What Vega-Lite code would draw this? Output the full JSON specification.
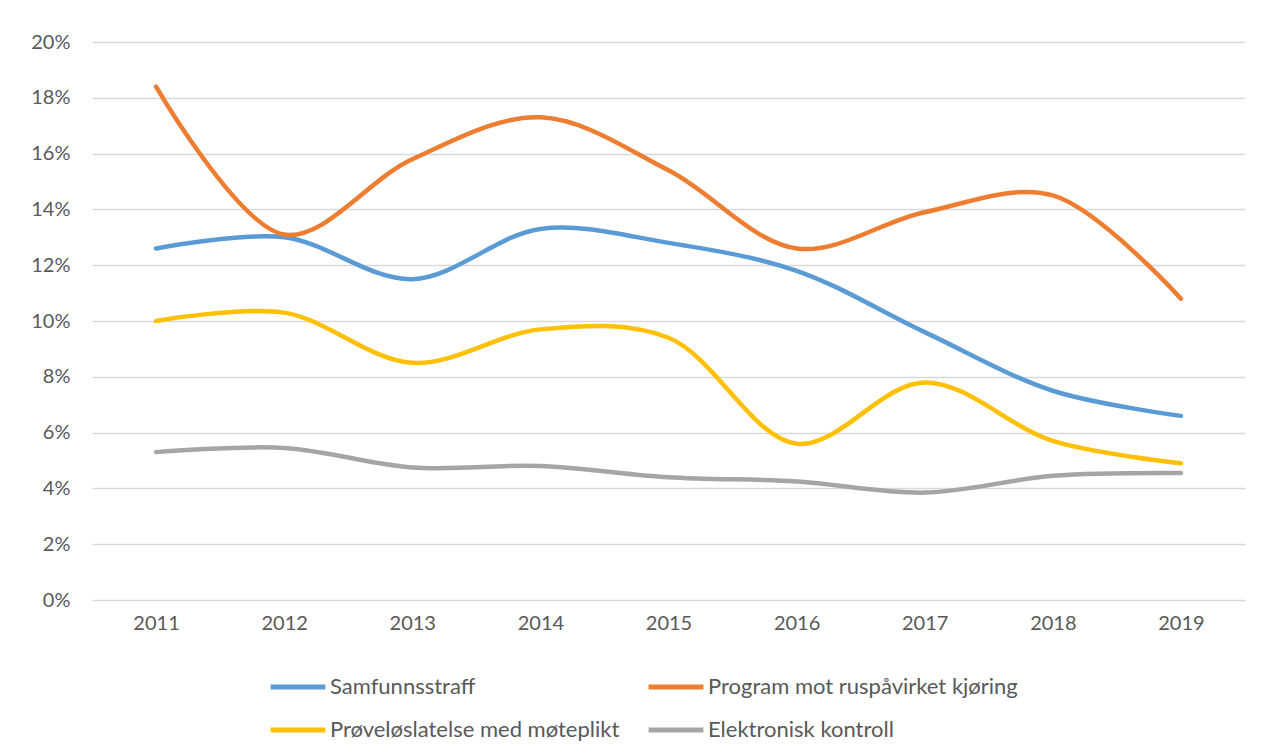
{
  "$schema": "https://vega.github.io/schema/vega-lite/v6.json",
  "autosize": "none",
  "width": 1153,
  "height": 558,
  "padding": {"left": 92, "top": 42, "right": 16, "bottom": 155},
  "background": "white",
  "data": {"values": [
    {"year": "2011", "series": "Samfunnsstraff", "value": 0.126},
    {"year": "2012", "series": "Samfunnsstraff", "value": 0.130},
    {"year": "2013", "series": "Samfunnsstraff", "value": 0.115},
    {"year": "2014", "series": "Samfunnsstraff", "value": 0.133},
    {"year": "2015", "series": "Samfunnsstraff", "value": 0.128},
    {"year": "2016", "series": "Samfunnsstraff", "value": 0.118},
    {"year": "2017", "series": "Samfunnsstraff", "value": 0.096},
    {"year": "2018", "series": "Samfunnsstraff", "value": 0.075},
    {"year": "2019", "series": "Samfunnsstraff", "value": 0.066},
    {"year": "2011", "series": "Program mot ruspåvirket kjøring", "value": 0.184},
    {"year": "2012", "series": "Program mot ruspåvirket kjøring", "value": 0.131},
    {"year": "2013", "series": "Program mot ruspåvirket kjøring", "value": 0.158},
    {"year": "2014", "series": "Program mot ruspåvirket kjøring", "value": 0.173},
    {"year": "2015", "series": "Program mot ruspåvirket kjøring", "value": 0.154},
    {"year": "2016", "series": "Program mot ruspåvirket kjøring", "value": 0.126},
    {"year": "2017", "series": "Program mot ruspåvirket kjøring", "value": 0.139},
    {"year": "2018", "series": "Program mot ruspåvirket kjøring", "value": 0.145},
    {"year": "2019", "series": "Program mot ruspåvirket kjøring", "value": 0.108},
    {"year": "2011", "series": "Prøveløslatelse med møteplikt", "value": 0.100},
    {"year": "2012", "series": "Prøveløslatelse med møteplikt", "value": 0.103},
    {"year": "2013", "series": "Prøveløslatelse med møteplikt", "value": 0.085},
    {"year": "2014", "series": "Prøveløslatelse med møteplikt", "value": 0.097},
    {"year": "2015", "series": "Prøveløslatelse med møteplikt", "value": 0.094},
    {"year": "2016", "series": "Prøveløslatelse med møteplikt", "value": 0.056},
    {"year": "2017", "series": "Prøveløslatelse med møteplikt", "value": 0.078},
    {"year": "2018", "series": "Prøveløslatelse med møteplikt", "value": 0.057},
    {"year": "2019", "series": "Prøveløslatelse med møteplikt", "value": 0.049},
    {"year": "2011", "series": "Elektronisk kontroll", "value": 0.053},
    {"year": "2012", "series": "Elektronisk kontroll", "value": 0.0545},
    {"year": "2013", "series": "Elektronisk kontroll", "value": 0.0475},
    {"year": "2014", "series": "Elektronisk kontroll", "value": 0.048},
    {"year": "2015", "series": "Elektronisk kontroll", "value": 0.044},
    {"year": "2016", "series": "Elektronisk kontroll", "value": 0.0425},
    {"year": "2017", "series": "Elektronisk kontroll", "value": 0.0385},
    {"year": "2018", "series": "Elektronisk kontroll", "value": 0.0445},
    {"year": "2019", "series": "Elektronisk kontroll", "value": 0.0455}
  ]},
  "mark": {"type": "line", "interpolate": "catmull-rom", "strokeWidth": 4.5, "strokeCap": "round"},
  "encoding": {
    "x": {
      "field": "year", "type": "ordinal",
      "scale": {"type": "point", "padding": 0.5},
      "axis": {"title": null, "labelAngle": 0, "domain": false, "ticks": false, "grid": false, "labelPadding": 13, "labelFontSize": 20, "labelColor": "#595959", "labelFont": "Lato"}
    },
    "y": {
      "field": "value", "type": "quantitative",
      "scale": {"domain": [0, 0.2], "nice": false},
      "axis": {"title": null, "format": ".0%", "values": [0, 0.02, 0.04, 0.06, 0.08, 0.1, 0.12, 0.14, 0.16, 0.18, 0.2], "domain": false, "ticks": false, "grid": true, "gridColor": "#d9d9d9", "gridWidth": 1.5, "labelPadding": 22, "labelFontSize": 20, "labelColor": "#595959", "labelFont": "Lato"}
    },
    "color": {
      "field": "series", "type": "nominal",
      "scale": {
        "domain": ["Samfunnsstraff", "Program mot ruspåvirket kjøring", "Prøveløslatelse med møteplikt", "Elektronisk kontroll"],
        "range": ["#5B9BD5", "#ED7D31", "#FFC000", "#A5A5A5"]
      },
      "legend": {
        "title": null, "orient": "none", "legendX": 176, "legendY": 615,
        "direction": "horizontal", "columns": 2, "symbolType": "stroke", "symbolSize": 3000, "symbolStrokeWidth": 5,
        "labelFontSize": 22, "labelColor": "#595959", "labelFont": "Lato", "labelOffset": 2, "labelLimit": 400,
        "rowPadding": 2, "columnPadding": 18, "padding": 0
      }
    }
  },
  "config": {"view": {"stroke": null}}
}
